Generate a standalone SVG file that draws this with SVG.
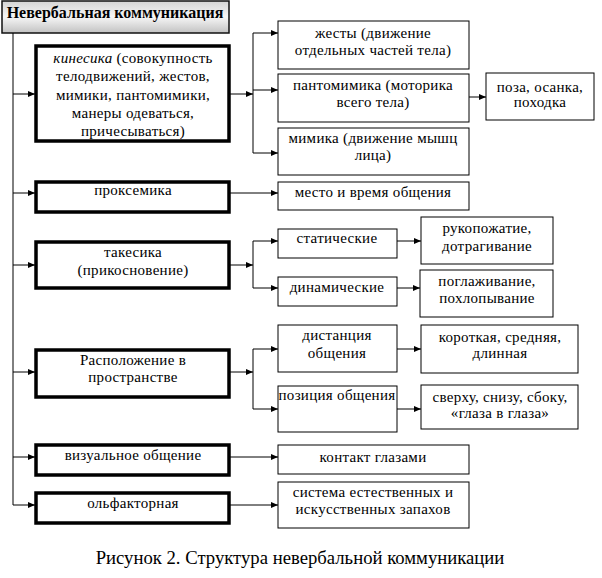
<svg xmlns="http://www.w3.org/2000/svg" width="602" height="578" viewBox="0 0 602 578">
<defs>
<linearGradient id="tg" x1="0" y1="0" x2="0" y2="1">
<stop offset="0" stop-color="#d4d4d4"/>
<stop offset="0.5" stop-color="#f6f6f6"/>
<stop offset="1" stop-color="#c2c2c2"/>
</linearGradient>
<marker id="ah" markerUnits="userSpaceOnUse" markerWidth="8" markerHeight="7" refX="7" refY="3.5" orient="auto">
<path d="M0,0.5 L7,3.5 L0,6.5 z" fill="#000"/>
</marker>
<style>
text{font-family:"Liberation Serif","Times New Roman",serif;font-size:15px;letter-spacing:0.3px;fill:#000;text-anchor:middle}
.b{fill:#fff;stroke:#000;stroke-width:1}
.t{fill:#fff;stroke:#000;stroke-width:3.5}
.c path{fill:none;stroke:#000;stroke-width:1}
.c .a{marker-end:url(#ah)}
</style>
</defs>
<rect width="602" height="578" fill="#fff"/>

<g id="title">
<rect x="2" y="1" width="227" height="32" fill="url(#tg)" stroke="#111" stroke-width="1.5"/>
<text x="115" y="18" style="font-weight:bold;font-size:16px;letter-spacing:0">Невербальная коммуникация</text>
</g>

<g class="c" id="connectors">
<path d="M13,33 V505"/>
<path class="a" d="M13,94 H35"/>
<path class="a" d="M13,193 H35"/>
<path class="a" d="M13,265 H35"/>
<path class="a" d="M13,372 H35"/>
<path class="a" d="M13,457 H35"/>
<path class="a" d="M13,505 H35"/>
<path class="a" d="M230,94 H253"/>
<path d="M253,33 V153"/>
<path class="a" d="M253,33 H278"/>
<path class="a" d="M253,90 H278"/>
<path class="a" d="M253,153 H278"/>
<path class="a" d="M469,97 H486"/>
<path class="a" d="M230,193 H278"/>
<path class="a" d="M230,265 H253"/>
<path d="M253,241 V288"/>
<path class="a" d="M253,241 H278"/>
<path class="a" d="M253,288 H278"/>
<path class="a" d="M397,241 H421"/>
<path class="a" d="M397,288 H420"/>
<path class="a" d="M230,372 H253"/>
<path d="M253,349 V409"/>
<path class="a" d="M253,349 H278"/>
<path class="a" d="M253,409 H278"/>
<path class="a" d="M397,349 H421"/>
<path class="a" d="M397,409 H421"/>
<path class="a" d="M230,457 H278"/>
<path class="a" d="M230,505 H278"/>
</g>

<g id="kinesika">
<rect class="t" x="36" y="46" width="193" height="95"/>
<text x="133" y="63"><tspan font-style="italic">кинесика</tspan> (совокупность</text>
<text x="133" y="81">телодвижений, жестов,</text>
<text x="133" y="100">мимики, пантомимики,</text>
<text x="133" y="118">манеры одеваться,</text>
<text x="133" y="136">причесываться)</text>
</g>

<g id="zhesty">
<rect class="b" x="278" y="21" width="191" height="48"/>
<text x="373" y="38">жесты (движение</text>
<text x="373" y="55">отдельных частей тела)</text>
</g>

<g id="pantomimika">
<rect class="b" x="278" y="74" width="191" height="48"/>
<text x="373" y="90">пантомимика (моторика</text>
<text x="373" y="107">всего тела)</text>
</g>

<g id="poza">
<rect class="b" x="486" y="73" width="108" height="47"/>
<text x="540" y="92">поза, осанка,</text>
<text x="540" y="107">походка</text>
</g>

<g id="mimika">
<rect class="b" x="278" y="128" width="191" height="47"/>
<text x="373" y="143">мимика (движение мышц</text>
<text x="373" y="160">лица)</text>
</g>

<g id="proksemika">
<rect class="t" x="36" y="182" width="193" height="30"/>
<text x="133" y="195">проксемика</text>
</g>

<g id="mesto">
<rect class="b" x="278" y="182" width="191" height="28"/>
<text x="373" y="197">место и время общения</text>
</g>

<g id="takesika">
<rect class="t" x="36" y="242" width="193" height="46"/>
<text x="133" y="257">такесика</text>
<text x="133" y="275">(прикосновение)</text>
</g>

<g id="staticheskie">
<rect class="b" x="278" y="229" width="119" height="29"/>
<text x="337" y="243">статические</text>
</g>

<g id="dinamicheskie">
<rect class="b" x="278" y="277" width="119" height="29"/>
<text x="337" y="292">динамические</text>
</g>

<g id="rukopozhatie">
<rect class="b" x="421" y="217" width="132" height="47"/>
<text x="487" y="233">рукопожатие,</text>
<text x="487" y="251">дотрагивание</text>
</g>

<g id="poglazhivanie">
<rect class="b" x="420" y="270" width="133" height="47"/>
<text x="487" y="286">поглаживание,</text>
<text x="487" y="303">похлопывание</text>
</g>

<g id="raspolozhenie">
<rect class="t" x="36" y="350" width="193" height="47"/>
<text x="133" y="365">Расположение в</text>
<text x="133" y="382">пространстве</text>
</g>

<g id="distanciya">
<rect class="b" x="278" y="325" width="119" height="47"/>
<text x="337" y="340">дистанция</text>
<text x="337" y="358">общения</text>
</g>

<g id="poziciya">
<rect class="b" x="278" y="386" width="119" height="46"/>
<text x="337" y="400">позиция общения</text>
</g>

<g id="korotkaya">
<rect class="b" x="421" y="325" width="157" height="48"/>
<text x="500" y="342">короткая, средняя,</text>
<text x="500" y="358">длинная</text>
</g>

<g id="sverhu">
<rect class="b" x="421" y="385" width="157" height="44"/>
<text x="500" y="402">сверху, снизу, сбоку,</text>
<text x="500" y="418">«глаза в глаза»</text>
</g>

<g id="vizualnoe">
<rect class="t" x="36" y="445" width="193" height="30"/>
<text x="133" y="460">визуальное общение</text>
</g>

<g id="kontakt">
<rect class="b" x="278" y="445" width="191" height="29"/>
<text x="373" y="462">контакт глазами</text>
</g>

<g id="olfaktornaya">
<rect class="t" x="36" y="493" width="193" height="30"/>
<text x="133" y="508">ольфакторная</text>
</g>

<g id="sistema">
<rect class="b" x="278" y="482" width="191" height="46"/>
<text x="373" y="497">система естественных и</text>
<text x="373" y="514">искусственных запахов</text>
</g>

<text x="300" y="564" style="font-size:18.7px;letter-spacing:0">Рисунок 2. Структура невербальной коммуникации</text>
</svg>
